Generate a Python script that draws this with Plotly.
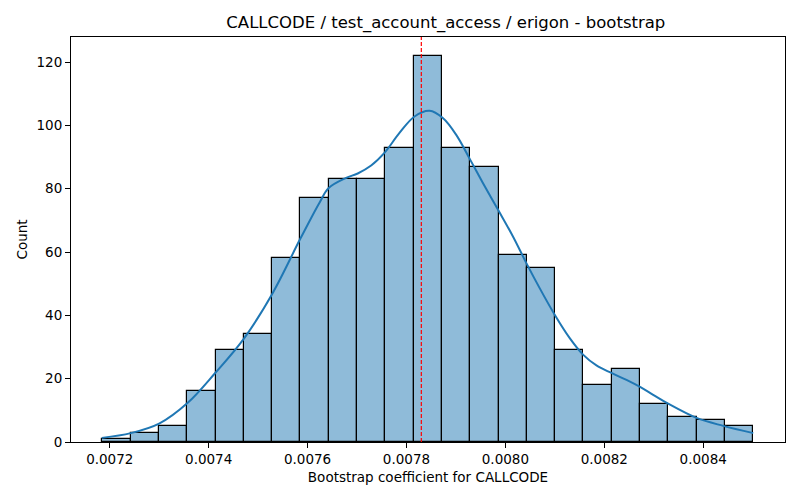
import numpy as np
import plotly.graph_objects as go

# Histogram data (counts per bin)
counts = [1, 3, 5, 16, 29, 34, 58, 77, 83, 83, 93, 122, 93, 87, 59, 55, 29, 18, 23, 12, 8, 7, 5]
bin_start = 0.007185
bin_width = 0.00005723

# KDE curve
kde_x = [0.007184, 0.0072425, 0.0072998, 0.0073571, 0.0074132, 0.0074705, 0.0075293,
         0.0075860, 0.0076238, 0.0076427, 0.0076779, 0.0077014, 0.0077285, 0.0077554,
         0.0077858, 0.0078162, 0.0078466, 0.0078735, 0.0079006, 0.0079290, 0.0079545,
         0.0079849, 0.0080153, 0.0080424, 0.0080693, 0.0080997, 0.0081301, 0.0081570,
         0.0081841, 0.0082145, 0.0082449, 0.0082732, 0.0082988, 0.0083291, 0.0083866,
         0.0084405, 0.0085012]
kde_y = [1.3, 2.8, 5.8, 12.3, 21.8, 32.5, 47.0, 64.4, 75.5, 80.2, 83.4, 84.8, 87.3, 91.3,
         97.6, 102.8, 104.6, 102.3, 97.0, 89.1, 81.8, 73.4, 64.9, 56.5, 48.6, 40.2, 32.8,
         27.6, 24.2, 21.8, 19.6, 17.3, 14.9, 12.1, 7.6, 5.1, 2.8]

mean_value = 0.00783

x_ticks = [0.0072, 0.0074, 0.0076, 0.0078, 0.0080, 0.0082, 0.0084]
x_tick_labels = ["0.0072", "0.0074", "0.0076", "0.0078", "0.0080", "0.0082", "0.0084"]
y_ticks = [0, 20, 40, 60, 80, 100, 120]

centers = bin_start + (np.arange(len(counts)) + 0.5) * bin_width

fig = go.Figure()
fig.add_trace(go.Bar(
    x=centers, y=counts, width=bin_width,
    marker=dict(color="rgba(31,119,180,0.5)", line=dict(color="black", width=1.2)),
    showlegend=False, hoverinfo="x+y",
))
fig.add_trace(go.Scatter(
    x=kde_x, y=kde_y, mode="lines",
    line=dict(color="#1f77b4", width=2, shape="spline", smoothing=1.0),
    showlegend=False,
))
fig.add_shape(type="line", x0=mean_value, x1=mean_value, y0=0, y1=1, yref="paper",
              line=dict(color="red", width=1.2, dash="4px,2px"))

font_family = "DejaVu Sans"
fig.update_layout(
    width=800, height=500,
    margin=dict(l=63, r=23, t=29, b=66, autoexpand=False),
    paper_bgcolor="white", plot_bgcolor="white",
    font=dict(family=font_family, size=13.5, color="black"),
    bargap=0,
    title=dict(text="CALLCODE / test_account_access / erigon - bootstrap",
               x=(63 + 777) / 2 / 800, xref="paper", xanchor="center", y=1 - 14 / 500,
               yanchor="middle",
               font=dict(size=16.5, family=font_family, color="black")),
    xaxis=dict(range=[0.0071216, 0.0085654], tickvals=x_ticks, ticktext=x_tick_labels,
               ticks="outside", ticklen=5, tickcolor="black", showgrid=False, zeroline=False,
               showline=True, linecolor="black", linewidth=1, mirror=True, automargin=False,
               title=dict(text="Bootstrap coefficient for CALLCODE", standoff=6,
                          font=dict(size=13.5))),
    yaxis=dict(range=[0, 127.9], tickvals=y_ticks, ticks="outside", ticklen=5,
               tickcolor="black", showgrid=False, zeroline=False, automargin=False,
               showline=True, linecolor="black", linewidth=1, mirror=True,
               title=dict(text="Count", standoff=5, font=dict(size=13.5))),
)

fig.write_html("out.html")
